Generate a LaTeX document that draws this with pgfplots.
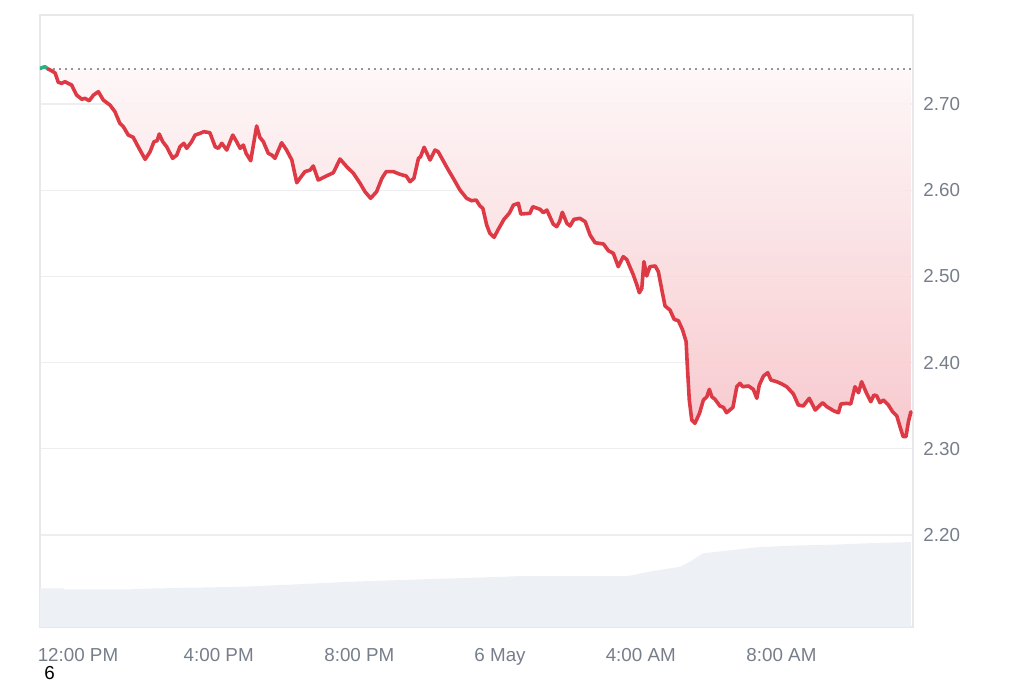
\documentclass[border=0pt]{standalone}
\usepackage{pgfplots}
\pgfplotsset{compat=1.18}
\usepackage{fontspec}
\setmainfont{Liberation Sans}
\definecolor{priceRed}{RGB}{222,58,70}
\definecolor{priceGreen}{RGB}{40,180,130}
\definecolor{tickGray}{RGB}{118,126,138}
\definecolor{gridGray}{RGB}{238,238,240}
\definecolor{frameGray}{RGB}{232,232,234}
\definecolor{volGray}{RGB}{237,240,244}
\definecolor{fillTop}{RGB}{254,246,247}
\definecolor{fillBot}{RGB}{246,196,201}
\begin{document}
\begin{tikzpicture}
\begin{axis}[
  at={(20pt,28pt)}, anchor=south west,
  scale only axis, width=436.5pt, height=306pt,
  xmin=-1.08, xmax=23.74, ymin=2.0933, ymax=2.8033,
  axis line style={draw=frameGray, line width=0.6pt},
  ytick={2.2,2.3,2.4,2.5,2.6,2.7},
  yticklabels={2.20,2.30,2.40,2.50,2.60,2.70},
  ymajorgrids, major grid style={draw=gridGray, line width=0.6pt},
  xtick={0,4,8,12,16,20},
  xticklabels={12:00 PM,4:00 PM,8:00 PM,6 May,4:00 AM,8:00 AM},
  major tick length=0pt,
  ticklabel pos=right, xticklabel pos=left,
  /pgf/number format/assume math mode=true,
  tick label style={font=\fontsize{9.4}{11}\selectfont, text=tickGray, inner sep=0pt},
  yticklabel style={anchor=west, xshift=5pt},
  xticklabel style={anchor=north, yshift=-10.5pt},
  clip=true,
]
% volume
\addplot[draw=none, fill=volGray] coordinates {
(-1.08,2.1382) (-0.43,2.1382) (-0.40,2.1370) (1.48,2.1370) (2.05,2.1379)
(4.69,2.1400) (6.23,2.1428) (7.73,2.1458) (9.81,2.1486) (11.63,2.1509)
(12.57,2.1524) (15.61,2.1524) (15.78,2.1535) (16.18,2.1570) (17.12,2.1632)
(17.40,2.1690) (17.77,2.1787) (18.62,2.1826) (19.31,2.1857) (20.24,2.1876)
(21.47,2.1888) (22.43,2.1904) (23.37,2.1915) (23.68,2.1919)
(23.68,2.0) (-1.08,2.0)} -- cycle;
% gradient fill
\addplot[draw=none, top color=fillTop, bottom color=fillBot, fill opacity=0.9] coordinates {
(-0.85,2.7406) (-0.75,2.7386) (-0.65,2.7360) (-0.56,2.7252) (-0.46,2.7240) (-0.37,2.7259)
(-0.28,2.7240) (-0.18,2.7220) (-0.04,2.7104) (0.11,2.7055) (0.20,2.7066) (0.32,2.7038)
(0.44,2.7104) (0.58,2.7143) (0.72,2.7046) (0.91,2.6988) (1.05,2.6911) (1.19,2.6776)
(1.29,2.6737) (1.43,2.6640) (1.57,2.6614) (1.71,2.6505) (1.91,2.6358) (2.05,2.6447)
(2.16,2.6563) (2.25,2.6574) (2.31,2.6652) (2.41,2.6563) (2.52,2.6505) (2.69,2.6370)
(2.81,2.6408) (2.90,2.6505) (3.01,2.6544) (3.09,2.6486) (3.23,2.6563) (3.33,2.6640)
(3.47,2.6660) (3.58,2.6679) (3.75,2.6667) (3.90,2.6505) (3.99,2.6486) (4.09,2.6544)
(4.23,2.6466) (4.40,2.6640) (4.51,2.6563) (4.61,2.6486) (4.70,2.6524) (4.78,2.6428)
(4.91,2.6342) (5.08,2.6745) (5.17,2.6614) (5.27,2.6563) (5.41,2.6428) (5.51,2.6408)
(5.60,2.6370) (5.79,2.6551) (5.93,2.6466) (6.08,2.6350) (6.22,2.6087) (6.31,2.6138)
(6.45,2.6215) (6.60,2.6234) (6.69,2.6281) (6.83,2.6118) (7.02,2.6157) (7.26,2.6203)
(7.45,2.6362) (7.64,2.6273) (7.83,2.6196) (8.02,2.6080) (8.16,2.5983) (8.32,2.5906)
(8.49,2.5983) (8.64,2.6138) (8.76,2.6215) (8.97,2.6215) (9.16,2.6184) (9.33,2.6165)
(9.44,2.6099) (9.55,2.6138) (9.68,2.6370) (9.74,2.6389) (9.84,2.6498) (10.01,2.6350)
(10.15,2.6466) (10.24,2.6447) (10.53,2.6234) (10.67,2.6138) (10.86,2.6002) (11.05,2.5906)
(11.19,2.5878) (11.32,2.5886) (11.43,2.5817) (11.51,2.5790) (11.62,2.5596) (11.71,2.5500)
(11.83,2.5454) (11.95,2.5546) (12.11,2.5662) (12.26,2.5732) (12.38,2.5828) (12.52,2.5848)
(12.59,2.5724) (12.85,2.5732) (12.93,2.5809) (13.14,2.5778) (13.23,2.5739) (13.33,2.5770)
(13.51,2.5608) (13.61,2.5577) (13.69,2.5635) (13.77,2.5744) (13.90,2.5616) (13.99,2.5585)
(14.10,2.5662) (14.27,2.5674) (14.42,2.5635) (14.56,2.5480) (14.70,2.5391) (14.94,2.5376)
(15.08,2.5298) (15.22,2.5268) (15.36,2.5113) (15.50,2.5229) (15.60,2.5198) (15.79,2.5016)
(15.89,2.4900) (15.96,2.4811) (16.03,2.4862) (16.09,2.5171) (16.17,2.5005) (16.26,2.5113)
(16.41,2.5121) (16.50,2.5055) (16.60,2.4842) (16.69,2.4657) (16.83,2.4610) (16.95,2.4502)
(17.07,2.4486) (17.19,2.4378) (17.29,2.4243) (17.32,2.3992) (17.38,2.3566) (17.45,2.3334)
(17.54,2.3296) (17.67,2.3412) (17.78,2.3566) (17.88,2.3604) (17.95,2.3690) (18.02,2.3604)
(18.11,2.3574) (18.25,2.3497) (18.35,2.3481) (18.44,2.3419) (18.62,2.3481) (18.73,2.3720)
(18.82,2.3760) (18.90,2.3720) (19.06,2.3729) (19.20,2.3690) (19.30,2.3586) (19.37,2.3740)
(19.49,2.3845) (19.61,2.3883) (19.70,2.3798) (19.87,2.3778) (20.01,2.3752) (20.15,2.3720)
(20.34,2.3636) (20.48,2.3508) (20.62,2.3497) (20.79,2.3586) (20.96,2.3450) (21.17,2.3535)
(21.29,2.3489) (21.48,2.3442) (21.62,2.3419) (21.69,2.3520) (21.86,2.3528) (21.97,2.3520)
(22.09,2.3720) (22.19,2.3651) (22.28,2.3778) (22.42,2.3644) (22.54,2.3547) (22.63,2.3624)
(22.71,2.3613) (22.80,2.3535) (22.90,2.3566) (23.04,2.3508) (23.16,2.3430) (23.28,2.3381)
(23.37,2.3257) (23.46,2.3141) (23.54,2.3141) (23.61,2.3315) (23.68,2.3430)
(23.68,2.7406)} -- cycle;
% baseline
\addplot[draw={rgb,255:red,150;green,150;blue,155}, line width=1pt, dash pattern=on 1pt off 2.15pt] coordinates {(-1.08,2.7406) (23.74,2.7406)};
% green start
\addplot[draw=priceGreen, line width=1.8pt, line join=round, line cap=round] coordinates {(-1.08,2.7414) (-0.94,2.7433) (-0.85,2.7406)};
% price line
\addplot[draw=priceRed, line width=1.8pt, line join=round, line cap=round] coordinates {
(-0.85,2.7406) (-0.75,2.7386) (-0.65,2.7360) (-0.56,2.7252) (-0.46,2.7240) (-0.37,2.7259)
(-0.28,2.7240) (-0.18,2.7220) (-0.04,2.7104) (0.11,2.7055) (0.20,2.7066) (0.32,2.7038)
(0.44,2.7104) (0.58,2.7143) (0.72,2.7046) (0.91,2.6988) (1.05,2.6911) (1.19,2.6776)
(1.29,2.6737) (1.43,2.6640) (1.57,2.6614) (1.71,2.6505) (1.91,2.6358) (2.05,2.6447)
(2.16,2.6563) (2.25,2.6574) (2.31,2.6652) (2.41,2.6563) (2.52,2.6505) (2.69,2.6370)
(2.81,2.6408) (2.90,2.6505) (3.01,2.6544) (3.09,2.6486) (3.23,2.6563) (3.33,2.6640)
(3.47,2.6660) (3.58,2.6679) (3.75,2.6667) (3.90,2.6505) (3.99,2.6486) (4.09,2.6544)
(4.23,2.6466) (4.40,2.6640) (4.51,2.6563) (4.61,2.6486) (4.70,2.6524) (4.78,2.6428)
(4.91,2.6342) (5.08,2.6745) (5.17,2.6614) (5.27,2.6563) (5.41,2.6428) (5.51,2.6408)
(5.60,2.6370) (5.79,2.6551) (5.93,2.6466) (6.08,2.6350) (6.22,2.6087) (6.31,2.6138)
(6.45,2.6215) (6.60,2.6234) (6.69,2.6281) (6.83,2.6118) (7.02,2.6157) (7.26,2.6203)
(7.45,2.6362) (7.64,2.6273) (7.83,2.6196) (8.02,2.6080) (8.16,2.5983) (8.32,2.5906)
(8.49,2.5983) (8.64,2.6138) (8.76,2.6215) (8.97,2.6215) (9.16,2.6184) (9.33,2.6165)
(9.44,2.6099) (9.55,2.6138) (9.68,2.6370) (9.74,2.6389) (9.84,2.6498) (10.01,2.6350)
(10.15,2.6466) (10.24,2.6447) (10.53,2.6234) (10.67,2.6138) (10.86,2.6002) (11.05,2.5906)
(11.19,2.5878) (11.32,2.5886) (11.43,2.5817) (11.51,2.5790) (11.62,2.5596) (11.71,2.5500)
(11.83,2.5454) (11.95,2.5546) (12.11,2.5662) (12.26,2.5732) (12.38,2.5828) (12.52,2.5848)
(12.59,2.5724) (12.85,2.5732) (12.93,2.5809) (13.14,2.5778) (13.23,2.5739) (13.33,2.5770)
(13.51,2.5608) (13.61,2.5577) (13.69,2.5635) (13.77,2.5744) (13.90,2.5616) (13.99,2.5585)
(14.10,2.5662) (14.27,2.5674) (14.42,2.5635) (14.56,2.5480) (14.70,2.5391) (14.94,2.5376)
(15.08,2.5298) (15.22,2.5268) (15.36,2.5113) (15.50,2.5229) (15.60,2.5198) (15.79,2.5016)
(15.89,2.4900) (15.96,2.4811) (16.03,2.4862) (16.09,2.5171) (16.17,2.5005) (16.26,2.5113)
(16.41,2.5121) (16.50,2.5055) (16.60,2.4842) (16.69,2.4657) (16.83,2.4610) (16.95,2.4502)
(17.07,2.4486) (17.19,2.4378) (17.29,2.4243) (17.32,2.3992) (17.38,2.3566) (17.45,2.3334)
(17.54,2.3296) (17.67,2.3412) (17.78,2.3566) (17.88,2.3604) (17.95,2.3690) (18.02,2.3604)
(18.11,2.3574) (18.25,2.3497) (18.35,2.3481) (18.44,2.3419) (18.62,2.3481) (18.73,2.3720)
(18.82,2.3760) (18.90,2.3720) (19.06,2.3729) (19.20,2.3690) (19.30,2.3586) (19.37,2.3740)
(19.49,2.3845) (19.61,2.3883) (19.70,2.3798) (19.87,2.3778) (20.01,2.3752) (20.15,2.3720)
(20.34,2.3636) (20.48,2.3508) (20.62,2.3497) (20.79,2.3586) (20.96,2.3450) (21.17,2.3535)
(21.29,2.3489) (21.48,2.3442) (21.62,2.3419) (21.69,2.3520) (21.86,2.3528) (21.97,2.3520)
(22.09,2.3720) (22.19,2.3651) (22.28,2.3778) (22.42,2.3644) (22.54,2.3547) (22.63,2.3624)
(22.71,2.3613) (22.80,2.3535) (22.90,2.3566) (23.04,2.3508) (23.16,2.3430) (23.28,2.3381)
(23.37,2.3257) (23.46,2.3141) (23.54,2.3141) (23.61,2.3315) (23.68,2.3430)};
\end{axis}
\node[anchor=base west, inner sep=0pt, font=\fontsize{9.4}{11}\selectfont] at (22pt,1.6pt) {6};
\path[use as bounding box] (0,0) rectangle (512pt,341.5pt);
\end{tikzpicture}
\end{document}
